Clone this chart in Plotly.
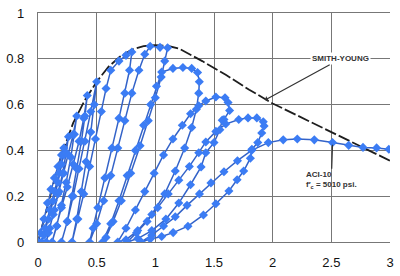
import plotly.graph_objects as go

# Smith-Young envelope (dashed black)
env_x = [0, 0.05, 0.1, 0.15, 0.2, 0.3, 0.4, 0.5, 0.6, 0.7, 0.8, 0.9, 1.0, 1.05, 1.1, 1.2, 1.4, 1.6, 1.8, 2.0, 2.2, 2.4, 2.6, 2.8, 3.0]
env_y = [0, 0.1, 0.2, 0.29, 0.38, 0.52, 0.62, 0.70, 0.765, 0.81, 0.84, 0.855, 0.86, 0.86, 0.857, 0.845, 0.79, 0.73, 0.665, 0.605, 0.555, 0.505, 0.455, 0.405, 0.355]

# ACI-10 cyclic test (blue), stored cycle by cycle
c1_x = [0, 0.02, 0.05, 0.08, 0.11, 0.14, 0.17, 0.2, 0.22, 0.2, 0.17, 0.13, 0.09, 0.05, 0.03]
c1_y = [0, 0.04, 0.1, 0.17, 0.23, 0.28, 0.33, 0.38, 0.41, 0.34, 0.26, 0.18, 0.10, 0.03, 0]
c2_x = [0.06, 0.1, 0.14, 0.18, 0.22, 0.26, 0.24, 0.21, 0.17, 0.13, 0.09, 0.07]
c2_y = [0.06, 0.14, 0.22, 0.30, 0.38, 0.46, 0.39, 0.30, 0.21, 0.12, 0.04, 0]
c3_x = [0.1, 0.14, 0.18, 0.22, 0.26, 0.3, 0.33, 0.31, 0.28, 0.24, 0.2, 0.16, 0.12]
c3_y = [0.06, 0.14, 0.22, 0.30, 0.38, 0.47, 0.55, 0.47, 0.37, 0.26, 0.16, 0.07, 0]
c4_x = [0.16, 0.2, 0.25, 0.3, 0.35, 0.39, 0.42, 0.4, 0.37, 0.33, 0.29, 0.25, 0.2]
c4_y = [0.07, 0.15, 0.24, 0.34, 0.44, 0.54, 0.64, 0.55, 0.44, 0.32, 0.2, 0.09, 0]
c5_x = [0.25, 0.3, 0.35, 0.4, 0.45, 0.5, 0.48, 0.45, 0.41, 0.37, 0.33, 0.29]
c5_y = [0.09, 0.2, 0.32, 0.44, 0.57, 0.70, 0.6, 0.48, 0.35, 0.22, 0.1, 0]
c6_x = [0.34, 0.39, 0.44, 0.49, 0.54, 0.58, 0.62, 0.69, 0.75, 0.8, 0.78, 0.74, 0.69, 0.63, 0.57, 0.51, 0.47, 0.44]
c6_y = [0.1, 0.21, 0.33, 0.45, 0.57, 0.67, 0.75, 0.79, 0.815, 0.83, 0.75, 0.65, 0.54, 0.41, 0.28, 0.15, 0.06, 0]
c7_x = [0.5, 0.56, 0.62, 0.68, 0.74, 0.8, 0.86, 0.91, 0.956, 1.04, 1.105, 1.08, 1.05, 1.0, 0.94, 0.87, 0.79, 0.71, 0.64, 0.58, 0.55]
c7_y = [0.08, 0.18, 0.29, 0.41, 0.53, 0.65, 0.75, 0.82, 0.855, 0.85, 0.848, 0.79, 0.72, 0.63, 0.53, 0.42, 0.3, 0.18, 0.09, 0.02, 0]
c8_x = [0.62, 0.69, 0.76, 0.83, 0.9, 0.96, 1.01, 1.054, 1.15, 1.235, 1.31, 1.36, 1.375, 1.37, 1.35, 1.31, 1.25, 1.17, 1.08, 0.97, 0.85, 0.75, 0.68]
c8_y = [0.08, 0.18, 0.29, 0.4, 0.51, 0.6, 0.68, 0.742, 0.758, 0.762, 0.758, 0.74, 0.70, 0.65, 0.58, 0.5, 0.41, 0.31, 0.21, 0.12, 0.05, 0.01, 0]
c9_x = [0.75, 0.83, 0.91, 0.99, 1.07, 1.15, 1.23, 1.3, 1.37, 1.43, 1.516, 1.594, 1.62, 1.633, 1.585, 1.57, 1.55, 1.5, 1.43, 1.39, 1.3, 1.2, 1.09, 0.97, 0.85, 0.76]
c9_y = [0.06, 0.14, 0.22, 0.3, 0.38, 0.45, 0.51, 0.56, 0.595, 0.616, 0.633, 0.63, 0.609, 0.574, 0.535, 0.532, 0.49, 0.434, 0.39, 0.328, 0.25, 0.17, 0.1, 0.05, 0.015, 0]
c10_x = [0.84, 0.93, 1.02, 1.11, 1.2, 1.29, 1.37, 1.43, 1.516, 1.6, 1.711, 1.79, 1.865, 1.92, 1.927, 1.907, 1.873, 1.823, 1.81, 1.753, 1.697, 1.627, 1.516, 1.41, 1.278, 1.152, 1.054, 0.956, 0.88]
c10_y = [0.04, 0.09, 0.15, 0.21, 0.27, 0.33, 0.39, 0.437, 0.483, 0.515, 0.535, 0.542, 0.542, 0.525, 0.507, 0.476, 0.434, 0.405, 0.366, 0.31, 0.272, 0.223, 0.167, 0.118, 0.069, 0.041, 0.024, 0.013, 0]
c11_x = [0.97, 1.07, 1.17, 1.27, 1.376, 1.474, 1.585, 1.7, 1.82, 1.963, 2.09, 2.21, 2.355, 2.51, 2.648, 2.77, 2.886, 2.99]
c11_y = [0.03, 0.07, 0.11, 0.16, 0.21, 0.258, 0.307, 0.355, 0.4, 0.434, 0.446, 0.45, 0.446, 0.434, 0.422, 0.413, 0.411, 0.405]

cycles_x = [c1_x, c2_x, c3_x, c4_x, c5_x, c6_x, c7_x, c8_x, c9_x, c10_x, c11_x]
cycles_y = [c1_y, c2_y, c3_y, c4_y, c5_y, c6_y, c7_y, c8_y, c9_y, c10_y, c11_y]
test_x = [v for c in cycles_x for v in c]
test_y = [v for c in cycles_y for v in c]

x_ticks = [0, 0.5, 1, 1.5, 2, 2.5, 3]
x_labels = ["0", "0.5", "1", "1.5", "2", "2.5", "3"]
y_ticks = [0, 0.2, 0.4, 0.6, 0.8, 1]
y_labels = ["0", "0.2", "0.4", "0.6", "0.8", "1"]

fig = go.Figure()
fig.add_trace(go.Scatter(x=env_x, y=env_y, mode="lines",
                         line=dict(color="#1e1e1e", width=1.8, dash="12px,3px"),
                         hoverinfo="skip"))
fig.add_trace(go.Scatter(x=test_x, y=test_y, mode="lines+markers",
                         line=dict(color="#3463c8", width=1.5),
                         marker=dict(symbol="diamond", size=7, color="#3b7cf4",
                                     line=dict(width=0))))

grid_col = "#777777"
fig.update_xaxes(range=[0, 3], tickvals=x_ticks, ticktext=x_labels,
                 showgrid=True, gridcolor=grid_col, gridwidth=1.3,
                 zeroline=False, showline=True, mirror=True, linecolor=grid_col,
                 linewidth=1.3, ticks="",
                 ticklabelstandoff=8, ticklabeloverflow="allow",
                 tickfont=dict(family="Liberation Sans, Arial", size=13, color="#111"))
fig.update_yaxes(range=[0, 1.0], tickvals=y_ticks, ticktext=y_labels,
                 showgrid=True, gridcolor=grid_col, gridwidth=1.3,
                 zeroline=False, showline=True, linecolor=grid_col, linewidth=1.3,
                 ticks="", ticklabelstandoff=10, ticklabeloverflow="allow",
                 tickfont=dict(family="Liberation Sans, Arial", size=13, color="#111"))

ann_font = dict(family="Liberation Sans, Arial", size=8, color="#333")
fig.add_annotation(x=1.935, y=0.62, ax=2.58, ay=0.8, axref="x", ayref="y",
                   text="<b>SMITH-YOUNG</b>", font=ann_font, bgcolor="white",
                   showarrow=True, arrowhead=1, arrowsize=0.8, arrowwidth=1.2,
                   arrowcolor="#333")
fig.add_annotation(x=2.51, y=0.425, ax=2.5, ay=0.27, axref="x", ayref="y",
                   text="<b>ACI-10<br>f′<sub>c</sub> = 5010 psi.</b>", font=ann_font,
                   align="left",
                   showarrow=True, arrowhead=0, arrowwidth=1.2, arrowcolor="#333")

fig.update_layout(width=400, height=276, showlegend=False,
                  margin=dict(l=36, r=7, t=6, b=33),
                  paper_bgcolor="white", plot_bgcolor="white")
fig.write_html("out.html")
